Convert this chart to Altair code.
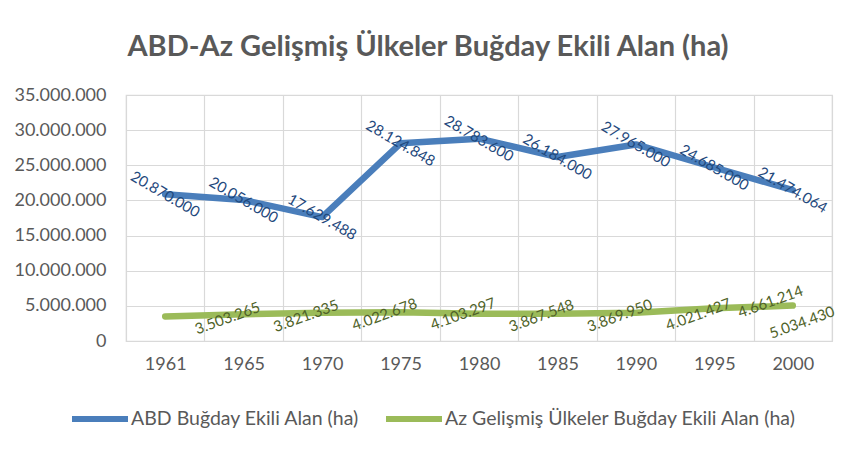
import altair as alt
import pandas as pd

years = ["1961", "1965", "1970", "1975", "1980", "1985", "1990", "1995", "2000"]
abd = [20870000, 20056000, 17629488, 28124848, 28783600, 26184000, 27965000, 24685000, 21474064]
az = [3503265, 3821335, 4022678, 4103297, 3867548, 3869950, 4021427, 4661214, 5034430]
s1 = "ABD Buğday Ekili Alan (ha)"
s2 = "Az Gelişmiş Ülkeler Buğday Ekili Alan (ha)"
title = "ABD-Az Gelişmiş Ülkeler Buğday Ekili Alan (ha)"
y_ticks = [0, 5000000, 10000000, 15000000, 20000000, 25000000, 30000000, 35000000]

def fmt(v):
    return f"{v:,}".replace(",", ".")

rows = []
for i, y in enumerate(years):
    rows.append({"year": y, "idx": i, "series": s1, "value": abd[i], "label": fmt(abd[i])})
    rows.append({"year": y, "idx": i, "series": s2, "value": az[i], "label": fmt(az[i])})
df = pd.DataFrame(rows)

FONT = "Lato"
GRAY = "#595959"
BLUE = "#4A7EBB"
GREEN = "#9BBB59"

x_enc = alt.X(
    "year:O",
    bandPosition=0.5,
    scale=alt.Scale(type="band", paddingInner=0, paddingOuter=0, domain=years),
    axis=alt.Axis(
        title=None, labelAngle=0, ticks=False, domain=False, grid=True,
        tickBand="extent", labelPadding=14, labelFontSize=18, labelColor=GRAY,
        labelFont=FONT, gridColor="#D9D9D9", gridWidth=1.2,
    ),
)
y_enc = alt.Y(
    "value:Q",
    scale=alt.Scale(domain=[0, 35000000], nice=False),
    axis=alt.Axis(
        title=None, values=y_ticks, ticks=False, domain=False, grid=True,
        labelExpr="replace(format(datum.value, ','), regexp(',', 'g'), '.')",
        labelPadding=20, labelFontSize=18, labelColor=GRAY, labelFont=FONT,
        gridColor="#D9D9D9", gridWidth=1.2,
    ),
)

base = alt.Chart(df)

lines = base.mark_line(strokeWidth=6.5, strokeCap="round", strokeJoin="round").encode(
    x=x_enc,
    y=y_enc,
    color=alt.Color(
        "series:N",
        scale=alt.Scale(domain=[s1, s2], range=[BLUE, GREEN]),
        legend=alt.Legend(
            title=None, orient="none", legendX=-57, legendY=293, direction="horizontal",
            symbolType="stroke", symbolSize=3136, symbolStrokeWidth=6,
            labelFontSize=19.5, labelColor=GRAY, labelFont=FONT, labelOffset=0,
            labelLimit=500, columnPadding=14, padding=0,
        ),
    ),
)

blue_labels = base.transform_filter(alt.datum.series == s1).mark_text(
    angle=30, fontSize=15, font=FONT, color="#1F497D", align="center", baseline="middle"
).encode(x=x_enc, y=y_enc, text="label:N")

green_style = dict(angle=340, fontSize=15, font=FONT, color="#4F6228", align="center", baseline="middle")

green_labels = base.transform_filter(
    (alt.datum.series == s2) & (alt.datum.idx < 7)
).mark_text(dx=58, dy=23, **green_style).encode(x=x_enc, y=y_enc, text="label:N")

green_7 = base.transform_filter(
    (alt.datum.series == s2) & (alt.datum.idx == 7)
).mark_text(dx=55, dy=13, **green_style).encode(x=x_enc, y=y_enc, text="label:N")

green_last = base.transform_filter(
    (alt.datum.series == s2) & (alt.datum.idx == 8)
).mark_text(dx=3, dy=19, **green_style).encode(x=x_enc, y=y_enc, text="label:N")

chart = alt.layer(lines, blue_labels, green_labels, green_7, green_last).properties(
    width=706,
    height=246,
    title=alt.TitleParams(
        title, fontSize=29, font=FONT, fontWeight="bold", color=GRAY,
        anchor="middle", dx=-51, offset=24,
    ),
    autosize=alt.AutoSizeParams(type="none"),
    padding={"left": 118, "top": 87, "right": 15, "bottom": 100},
).configure_view(stroke="#D9D9D9", strokeWidth=1.2)

chart.save("out.html", embed_options={"renderer": "svg", "actions": False})
